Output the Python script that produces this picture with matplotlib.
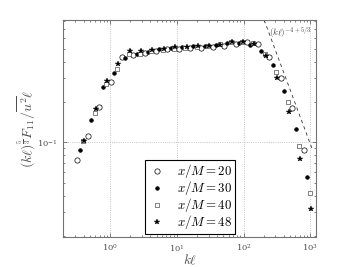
import numpy as np
from matplotlib import pyplot as plt

plt.rcParams['mathtext.fontset'] = 'cm'
plt.rcParams['font.family'] = 'serif'
plt.rcParams['font.serif'] = ['DejaVu Serif']

# x/M = 20 (open circles)
k20 = [0.316, 0.468, 0.692, 1.02, 1.51, 2.24, 3.31, 4.90, 7.24, 10.7, 15.8,
       23.4, 34.7, 51.3, 75.9, 112, 166, 245, 363, 537, 794]
f20 = [0.074, 0.111, 0.182, 0.282, 0.431, 0.445, 0.461, 0.484, 0.493, 0.497, 0.509,
       0.509, 0.514, 0.527, 0.546, 0.556, 0.542, 0.436, 0.301, 0.180, 0.0877]

# x/M = 30 (filled dots)
k30 = [0.355, 0.525, 0.776, 1.15, 1.70, 2.51, 3.72, 5.50, 8.13, 12.0, 17.8,
       26.3, 38.9, 57.5, 85.1, 126, 186, 275, 407, 603, 891]
f30 = [0.088, 0.146, 0.257, 0.329, 0.426, 0.456, 0.470, 0.497, 0.506, 0.516, 0.523,
       0.523, 0.532, 0.548, 0.548, 0.532, 0.483, 0.377, 0.241, 0.125, 0.0553]

# x/M = 40 (open squares)
k40 = [0.398, 0.589, 0.871, 1.29, 1.91, 2.82, 4.17, 6.17, 9.12, 13.5, 20.0,
       29.5, 43.7, 64.6, 95.5, 141, 209, 309, 457, 676, 1000]
f40 = [0.102, 0.166, 0.272, 0.351, 0.46, 0.46, 0.48, 0.49, 0.50, 0.51, 0.515,
       0.52, 0.542, 0.563, 0.563, 0.55, 0.46, 0.336, 0.201, 0.094, 0.042]

# x/M = 48 (stars)
k48 = [0.412, 0.610, 0.902, 1.33, 1.97, 2.92, 4.32, 6.38, 9.44, 14.0, 20.7,
       30.5, 45.2, 66.8, 98.9, 146, 216, 320, 473, 700, 1035]
f48 = [0.103, 0.177, 0.288, 0.386, 0.483, 0.483, 0.49, 0.50, 0.516, 0.515, 0.52,
       0.52, 0.535, 0.563, 0.56, 0.545, 0.44, 0.301, 0.169, 0.0746, 0.0316]

# reference slope line
line_k = [204, 1057]
line_f = [0.818, 0.0906]

fig = plt.figure(figsize=(3.54, 2.67), dpi=100)
ax = fig.add_axes([0.178, 0.112, 0.715, 0.813])

ax.plot(line_k, line_f, '--', color='0.2', lw=0.6, dashes=(4, 4))
ax.plot(k20, f20, 'o', mfc='w', mec='k', ms=3.8, mew=0.5, label=r'$x/M = 20$')
ax.plot(k30, f30, 'o', mfc='k', mec='k', ms=2.6, mew=0.5, label=r'$x/M = 30$')
ax.plot(k40, f40, 's', mfc='w', mec='0.3', ms=2.6, mew=0.5, label=r'$x/M = 40$')
ax.plot(k48, f48, '*', mfc='k', mec='k', ms=3.8, mew=0.3, label=r'$x/M = 48$')

ax.text(242, 0.655, r'$(k\ell)^{-4+5/3}$', fontsize=6.5, va='center', color='0.25')

ax.set_xscale('log')
ax.set_yscale('log')
ax.set_xlim(0.197, 1226)
ax.set_ylim(0.0196, 0.818)

ax.grid(True, which='major', ls=':', color='0.7', lw=0.6)
ax.tick_params(which='both', direction='in', top=True, right=True,
               labelsize=6, colors='0.3', width=0.5)
ax.tick_params(which='major', length=3, pad=4)
ax.tick_params(which='minor', length=1.5)
ax.yaxis.set_minor_formatter(plt.NullFormatter())
for s in ax.spines.values():
    s.set_color('0.45')
    s.set_linewidth(0.8)

ax.set_xlabel(r'$k\ell$', fontsize=9.5, color='0.3', labelpad=-1)
ax.set_ylabel(r'$(k\ell)^{\frac{5}{3}}F_{11}/\overline{u^2}\ell$', fontsize=10,
              color='0.3', labelpad=0)

leg = ax.legend(loc='lower center', fontsize=9.3, fancybox=False, framealpha=1,
                edgecolor='k', borderpad=0.2, handletextpad=0.7, labelspacing=-0.08,
                borderaxespad=0.25, handlelength=1.6)
leg.get_frame().set_linewidth(0.8)

fig.savefig('out.png', dpi=100)
